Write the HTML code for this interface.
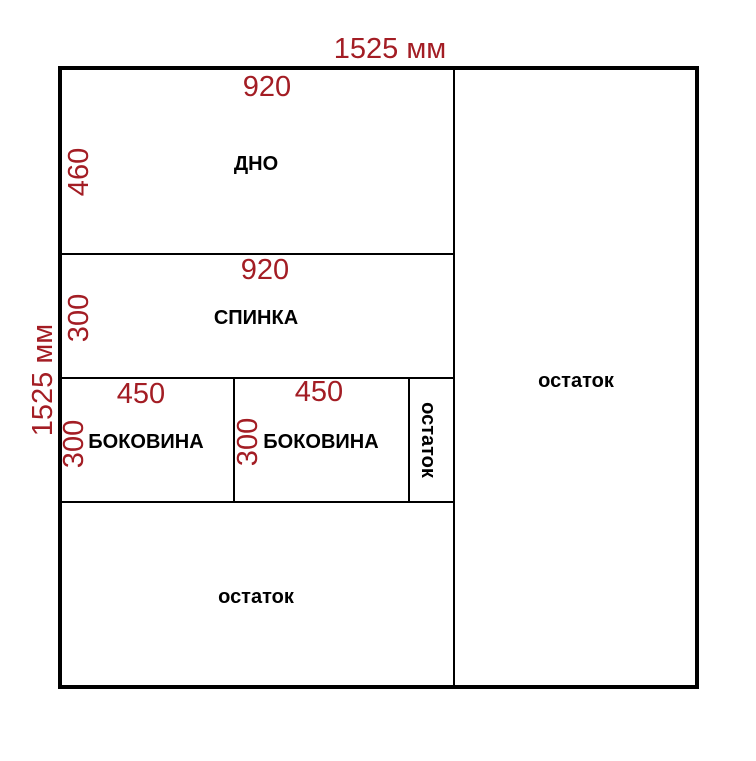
<!DOCTYPE html>
<html><head><meta charset="utf-8"><style>body{margin:0;background:#fff}</style></head><body>
<svg width="756" height="756" xmlns="http://www.w3.org/2000/svg" font-family="Liberation Sans, sans-serif">
<rect x="0" y="0" width="756" height="756" fill="#fff"/>
<rect x="60" y="68" width="637" height="619" fill="none" stroke="#000" stroke-width="4"/>
<g stroke="#000" stroke-width="2">
<line x1="454" y1="68" x2="454" y2="687"/>
<line x1="60" y1="254" x2="454" y2="254"/>
<line x1="60" y1="378" x2="454" y2="378"/>
<line x1="60" y1="502" x2="454" y2="502"/>
<line x1="234" y1="378" x2="234" y2="502"/>
<line x1="409" y1="378" x2="409" y2="502"/>
</g>
<g fill="#a31d24" font-size="29">
<text x="390" y="58" text-anchor="middle">1525 мм</text>
<text x="267" y="96" text-anchor="middle">920</text>
<text x="265" y="279" text-anchor="middle">920</text>
<text x="141" y="403" text-anchor="middle">450</text>
<text x="319" y="401" text-anchor="middle">450</text>
<text transform="translate(52,380) rotate(-90)" text-anchor="middle">1525 мм</text>
<text transform="translate(88,172) rotate(-90)" text-anchor="middle">460</text>
<text transform="translate(88,318) rotate(-90)" text-anchor="middle">300</text>
<text transform="translate(83,444) rotate(-90)" text-anchor="middle">300</text>
<text transform="translate(257,442) rotate(-90)" text-anchor="middle">300</text>
</g>
<g fill="#000" font-size="20" font-weight="bold" text-anchor="middle">
<text x="256" y="170">ДНО</text>
<text x="256" y="324">СПИНКА</text>
<text x="146" y="448">БОКОВИНА</text>
<text x="321" y="448">БОКОВИНА</text>
<text x="576" y="387">остаток</text>
<text x="256" y="603">остаток</text>
<text transform="translate(422,440) rotate(90)">остаток</text>
</g>
</svg>
</body></html>
